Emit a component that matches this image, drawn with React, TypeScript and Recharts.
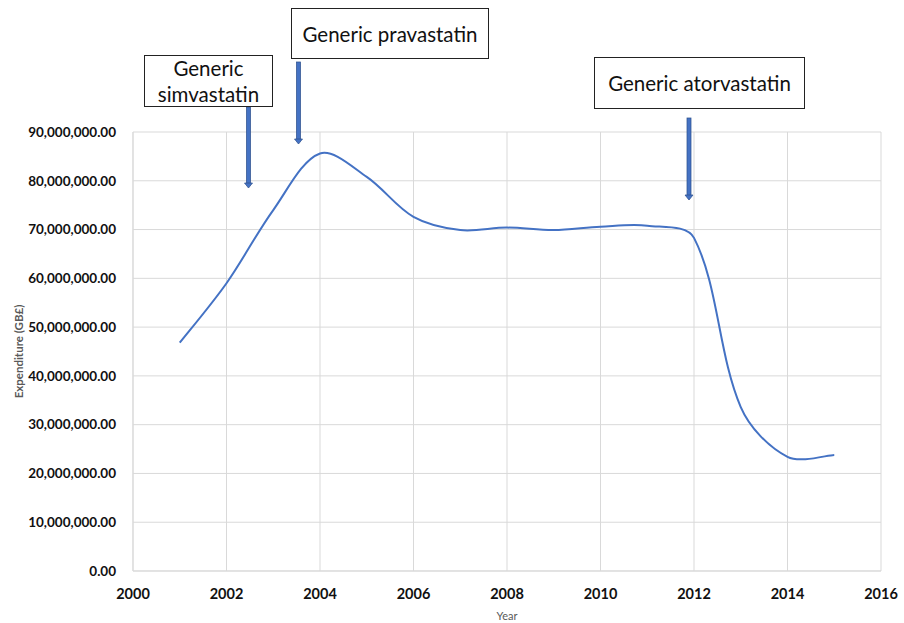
import React from 'react';
import { LineChart, Line, XAxis, YAxis, CartesianGrid, Label } from 'recharts';

const years = [2001, 2002, 2003, 2004, 2005, 2006, 2007, 2008, 2009, 2010, 2011, 2012, 2013, 2014, 2015];
const expenditure = [
  46.8e6, 59.0e6, 74.0e6, 85.6e6, 80.8e6, 72.6e6, 69.9e6, 70.4e6,
  69.9e6, 70.6e6, 70.8e6, 68.3e6, 33.6e6, 23.4e6, 23.8e6,
];
const xTicks = [2000, 2002, 2004, 2006, 2008, 2010, 2012, 2014, 2016];
const yTicks = [0, 10e6, 20e6, 30e6, 40e6, 50e6, 60e6, 70e6, 80e6, 90e6];

const data = years.map((year, i) => ({ year, value: expenditure[i] }));

const FONT = 'Lato, "Open Sans", sans-serif';
const GRID = '#d9d9d9';

// Excel-like smoothed line: bezier through every point, tangents scaled by chord length
const excelSmooth = (context: any) => {
  let pts: [number, number][] = [];
  const dist = (a: [number, number], b: [number, number]) => Math.hypot(b[0] - a[0], b[1] - a[1]);
  return {
    areaStart() {},
    areaEnd() {},
    lineStart() {
      pts = [];
    },
    point(x: number, y: number) {
      pts.push([+x, +y]);
    },
    lineEnd() {
      if (!pts.length) return;
      const n = pts.length;
      const tan = pts.map((p, i) => {
        const a = pts[i - 1] || p;
        const b = pts[i + 1] || p;
        return [b[0] - a[0], b[1] - a[1]];
      });
      context.moveTo(pts[0][0], pts[0][1]);
      for (let i = 0; i < n - 1; i++) {
        const p1 = pts[i];
        const p2 = pts[i + 1];
        const d12 = dist(p1, p2);
        const d01 = i > 0 ? dist(pts[i - 1], p1) : d12;
        const d23 = i + 2 < n ? dist(p2, pts[i + 2]) : d12;
        const s1 = (i > 0 ? d12 / (d01 + d12) : 0.5) / 3;
        const s2 = (i + 2 < n ? d12 / (d12 + d23) : 0.5) / 3;
        context.bezierCurveTo(
          p1[0] + tan[i][0] * s1,
          p1[1] + tan[i][1] * s1,
          p2[0] - tan[i + 1][0] * s2,
          p2[1] - tan[i + 1][1] * s2,
          p2[0],
          p2[1]
        );
      }
    },
  };
};

const fmt = (v: number) =>
  v.toLocaleString('en-US', { minimumFractionDigits: 2, maximumFractionDigits: 2 });

const boxStyle: React.CSSProperties = {
  position: 'absolute',
  background: '#fff',
  border: '1px solid #222',
  boxSizing: 'border-box',
  fontFamily: FONT,
  fontSize: 20.5,
  lineHeight: '26px',
  color: '#111',
  textAlign: 'center',
  display: 'flex',
  alignItems: 'center',
  justifyContent: 'center',
};

const Arrow = ({ x, y1, y2 }: { x: number; y1: number; y2: number }) => (
  <g>
    <rect x={x - 2} y={y1} width={4} height={y2 - y1 - 4} fill="#4472C4" stroke="#2F528F" strokeWidth={0.75} />
    <polygon points={`${x - 4},${y2 - 5} ${x + 4},${y2 - 5} ${x},${y2}`} fill="#4472C4" stroke="#2F528F" strokeWidth={0.75} />
  </g>
);

// full-page chart: body margin removed so the chart owns the whole 904x623 window
const App: React.FC = () => {
  return (
    <div style={{ position: 'relative', width: 904, height: 623 }}>
      <style>{`body { margin: 0; }`}</style>
      <LineChart
        width={904}
        height={623}
        data={data}
        margin={{ top: 132, right: 23, bottom: 0, left: 0 }}
      >
        <CartesianGrid stroke={GRID} strokeWidth={1} />
        <XAxis
          dataKey="year"
          type="number"
          domain={[2000, 2016]}
          ticks={xTicks}
          axisLine={{ stroke: GRID }}
          tickLine={false}
          tick={{ fill: '#111', fontSize: 14.5, fontWeight: 'bold', fontFamily: FONT }}
          tickMargin={12}
          height={52}
        >
          <Label
            content={({ viewBox }: any) => (
              <text
                x={viewBox.x + viewBox.width / 2}
                y={viewBox.y + 49}
                textAnchor="middle"
                fill="#595959"
                fontSize={11}
                fontFamily={FONT}
              >
                Year
              </text>
            )}
          />
        </XAxis>
        <YAxis
          type="number"
          domain={[0, 90e6]}
          ticks={yTicks}
          width={133}
          axisLine={{ stroke: GRID }}
          tickLine={false}
          tickFormatter={fmt}
          tick={{ fill: '#111', fontSize: 13.5, fontWeight: 'bold', fontFamily: FONT }}
          tickMargin={11}
        >
          <Label
            content={({ viewBox }: any) => {
              const cx = 18;
              const cy = viewBox.y + viewBox.height / 2;
              return (
                <text
                  x={cx}
                  y={cy}
                  transform={`rotate(-90 ${cx} ${cy})`}
                  textAnchor="middle"
                  dominantBaseline="central"
                  fill="#595959"
                  fontSize={11.5}
                  fontWeight="bold"
                  fontFamily={FONT}
                >
                  Expenditure (GB£)
                </text>
              );
            }}
          />
        </YAxis>
        <Line
          dataKey="value"
          type={excelSmooth as any}
          stroke="#4472C4"
          strokeWidth={2}
          dot={false}
          activeDot={false}
          isAnimationActive={false}
        />
      </LineChart>

      <svg width={904} height={623} style={{ position: 'absolute', left: 0, top: 0, pointerEvents: 'none' }}>
        <Arrow x={248.5} y1={107} y2={188} />
        <Arrow x={298.5} y1={62} y2={144} />
        <Arrow x={689} y1={118} y2={200} />
      </svg>

      <div style={{ ...boxStyle, left: 144, top: 55, width: 129, height: 52 }}>
        Generic
        <br />
        simvastatin
      </div>
      <div style={{ ...boxStyle, left: 291, top: 8, width: 198, height: 51 }}>Generic pravastatin</div>
      <div style={{ ...boxStyle, left: 594, top: 57, width: 211, height: 52 }}>Generic atorvastatin</div>
    </div>
  );
};

export default App;
